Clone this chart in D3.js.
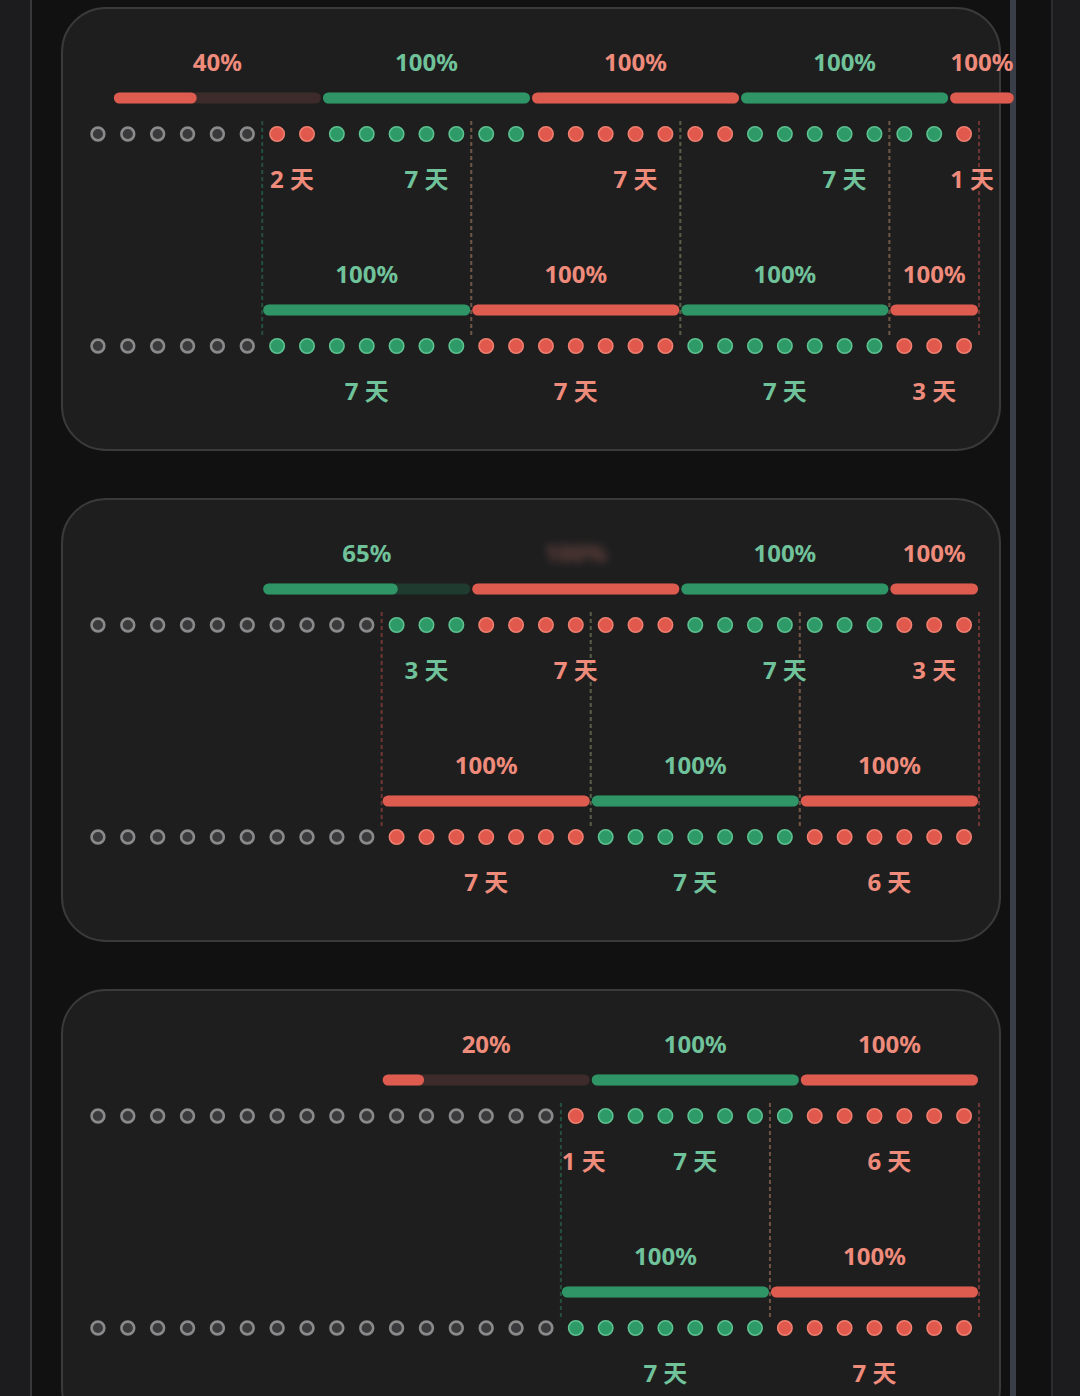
<!DOCTYPE html>
<html>
<head>
<meta charset="utf-8">
<script src="https://cdn.jsdelivr.net/npm/d3@7"></script>
<style>
  body { margin: 0; background: #111112; }
  svg { display: block; }
  text { font-family: "Noto Sans", "Noto Sans CJK SC", sans-serif; font-weight: 700; }
</style>
</head>
<body>
<svg id="chart"></svg>
<script>
// 30 day cells per row
const cells = d3.range(30);

// Panel 1
const p1TopKinds = ["off", "red", "green", "red", "green", "red"];
const p1TopDays = [6, 2, 7, 7, 7, 1];
const p1TopBarStart = [1, 8, 15, 22, 29];
const p1TopBarSpan = [7, 7, 7, 7, 2.2];
const p1TopBarKind = ["red", "green", "red", "green", "red"];
const p1TopBarPct = [40, 100, 100, 100, 100];
const p1TopBarBlur = [false, false, false, false, false];
const p1BotKinds = ["off", "green", "red", "green", "red"];
const p1BotDays = [6, 7, 7, 7, 3];
const p1BotPct = [null, 100, 100, 100, 100];

// Panel 2
const p2TopKinds = ["off", "green", "red", "green", "red"];
const p2TopDays = [10, 3, 7, 7, 3];
const p2TopBarStart = [6, 13, 20, 27];
const p2TopBarSpan = [7, 7, 7, 3];
const p2TopBarKind = ["green", "red", "green", "red"];
const p2TopBarPct = [65, 100, 100, 100];
const p2TopBarBlur = [false, true, false, false];
const p2BotKinds = ["off", "red", "green", "red"];
const p2BotDays = [10, 7, 7, 6];
const p2BotPct = [null, 100, 100, 100];

// Panel 3
const p3TopKinds = ["off", "red", "green", "red"];
const p3TopDays = [16, 1, 7, 6];
const p3TopBarStart = [10, 17, 24];
const p3TopBarSpan = [7, 7, 6];
const p3TopBarKind = ["red", "green", "red"];
const p3TopBarPct = [20, 100, 100];
const p3TopBarBlur = [false, false, false];
const p3BotKinds = ["off", "green", "red"];
const p3BotDays = [16, 7, 7];
const p3BotPct = [null, 100, 100];

const panelTops = [8, 499, 990];

const panels = [
  { top: [p1TopKinds, p1TopDays, p1TopBarStart, p1TopBarSpan, p1TopBarKind, p1TopBarPct, p1TopBarBlur],
    bot: [p1BotKinds, p1BotDays, p1BotPct] },
  { top: [p2TopKinds, p2TopDays, p2TopBarStart, p2TopBarSpan, p2TopBarKind, p2TopBarPct, p2TopBarBlur],
    bot: [p2BotKinds, p2BotDays, p2BotPct] },
  { top: [p3TopKinds, p3TopDays, p3TopBarStart, p3TopBarSpan, p3TopBarKind, p3TopBarPct, p3TopBarBlur],
    bot: [p3BotKinds, p3BotDays, p3BotPct] }
];

const palette = {
  red:   { bar: "#de5b4f", track: "#3d2a2a", text: "#ef8b7b", dot: "#e0594c", ring: "#f07f70" },
  green: { bar: "#2f9567", track: "#1f3a2f", text: "#70c29a", dot: "#2e9a68", ring: "#5dc290" },
  off:   { dot: "#3a3a3c", ring: "#8a8a8a" }
};

const W = 1080, H = 1396;
const svg = d3.select("#chart").attr("width", W).attr("height", H);

// cell edges; dot centers sit at i + 0.5
const edgeX = d3.scaleLinear().domain([0, cells.length]).range([83, 979]);
const cellW = edgeX(1) - edgeX(0);

svg.append("defs").append("filter")
   .attr("id", "smudge")
   .attr("x", "-30%").attr("y", "-60%").attr("width", "160%").attr("height", "220%")
   .append("feGaussianBlur").attr("stdDeviation", 4);

// page chrome
svg.append("rect").attr("width", W).attr("height", H).attr("fill", "#111112");
svg.append("rect").attr("x", 0).attr("width", 30).attr("height", H).attr("fill", "#1c1c1e");
svg.append("rect").attr("x", 30).attr("width", 2).attr("height", H).attr("fill", "#38383a");
svg.append("rect").attr("x", 1010).attr("width", 6).attr("height", H).attr("fill", "#3a3e48");
svg.append("rect").attr("x", 1051).attr("width", 2).attr("height", H).attr("fill", "#2c2c2e");
svg.append("rect").attr("x", 1053).attr("width", 27).attr("height", H).attr("fill", "#1c1c1e");

// layout offsets inside a panel
const rowGap = 212;
const off = { pct: 54, bar: 90, dot: 126, day: 171 };

function groupStarts(days) {
  return [0, ...d3.cumsum(days)].slice(0, days.length);
}

function expand(kinds, days) {
  const out = [];
  kinds.forEach((k, i) => { for (let j = 0; j < days[i]; j++) out.push(k); });
  return out;
}

function drawBars(g, y, labelY, bars) {
  const h = 11;
  g.selectAll(null).data(bars).join("rect")
   .attr("x", d => edgeX(d.start) + 1)
   .attr("y", y - h / 2)
   .attr("width", d => edgeX(d.start + d.span) - edgeX(d.start) - 2)
   .attr("height", h)
   .attr("rx", h / 2)
   .attr("fill", d => palette[d.kind].track);

  g.selectAll(null).data(bars).join("rect")
   .attr("x", d => edgeX(d.start) + 1)
   .attr("y", y - h / 2)
   .attr("width", d => (edgeX(d.start + d.span) - edgeX(d.start) - 2) * d.pct / 100)
   .attr("height", h)
   .attr("rx", h / 2)
   .attr("fill", d => palette[d.kind].bar);

  g.selectAll(null).data(bars).join("text")
   .attr("x", d => edgeX(d.start + d.span / 2))
   .attr("y", labelY)
   .attr("dy", "0.36em")
   .attr("text-anchor", "middle")
   .attr("font-size", 24)
   .attr("fill", d => palette[d.kind].text)
   .attr("opacity", d => d.blur ? 0.35 : 1)
   .attr("filter", d => d.blur ? "url(#smudge)" : null)
   .text(d => d.pct + "%");
}

function drawDots(g, y, kinds, days) {
  g.selectAll(null).data(expand(kinds, days)).join("circle")
   .attr("cx", (d, i) => edgeX(i + 0.5))
   .attr("cy", y)
   .attr("r", d => d === "off" ? 6.4 : 7.2)
   .attr("fill", d => palette[d].dot)
   .attr("stroke", d => palette[d].ring)
   .attr("stroke-width", d => d === "off" ? 2.6 : 1.6);
}

function drawDayLabels(g, y, kinds, days) {
  const starts = groupStarts(days);
  const groups = kinds.map((k, i) => ({ kind: k, n: days[i], start: starts[i] }))
                      .filter(d => d.kind !== "off");
  g.selectAll(null).data(groups).join("text")
   .attr("x", d => d.n * cellW < 50 ? edgeX(d.start) + 1 : edgeX(d.start + d.n / 2))
   .attr("y", y)
   .attr("dy", "0.36em")
   .attr("text-anchor", d => d.n * cellW < 50 ? "start" : "middle")
   .attr("font-size", 24)
   .attr("fill", d => palette[d.kind].text)
   .text(d => d.n + " 天");
}

panels.forEach((p, pi) => {
  const top = panelTops[pi];
  const g = svg.append("g");

  g.append("rect")
   .attr("x", 62).attr("y", top)
   .attr("width", 938).attr("height", 442)
   .attr("rx", 44)
   .attr("fill", "#1e1e1f")
   .attr("stroke", "#3a3a3c")
   .attr("stroke-width", 2);

  const [tKinds, tDays, bStart, bSpan, bKind, bPct, bBlur] = p.top;
  const [lKinds, lDays, lPct] = p.bot;
  const y1 = top, y2 = top + rowGap;

  // dashed guides at the lower row's group edges
  const lStarts = groupStarts(lDays);
  const guides = [];
  lKinds.forEach((k, i) => {
    if (k === "off") return;
    guides.push({ x: edgeX(lStarts[i]), kind: k });
    guides.push({ x: edgeX(lStarts[i] + lDays[i]), kind: k });
  });
  g.selectAll(null).data(guides).join("line")
   .attr("x1", d => d.x).attr("x2", d => d.x)
   .attr("y1", y1 + off.dot - 13)
   .attr("y2", y2 + off.dot - 10)
   .attr("stroke", d => palette[d.kind].bar)
   .attr("stroke-opacity", 0.42)
   .attr("stroke-width", 2)
   .attr("stroke-dasharray", "4 3");

  // upper row
  const topBars = bStart.map((s, i) => ({ start: s, span: bSpan[i], kind: bKind[i], pct: bPct[i], blur: bBlur[i] }));
  drawBars(g, y1 + off.bar, y1 + off.pct, topBars);
  drawDots(g, y1 + off.dot, tKinds, tDays);
  drawDayLabels(g, y1 + off.day, tKinds, tDays);

  // lower row: bars follow the groups
  const botBars = lKinds.map((k, i) => ({ start: lStarts[i], span: lDays[i], kind: k, pct: lPct[i], blur: false }))
                        .filter(d => d.kind !== "off");
  drawBars(g, y2 + off.bar, y2 + off.pct, botBars);
  drawDots(g, y2 + off.dot, lKinds, lDays);
  drawDayLabels(g, y2 + off.day, lKinds, lDays);
});
</script>
</body>
</html>
